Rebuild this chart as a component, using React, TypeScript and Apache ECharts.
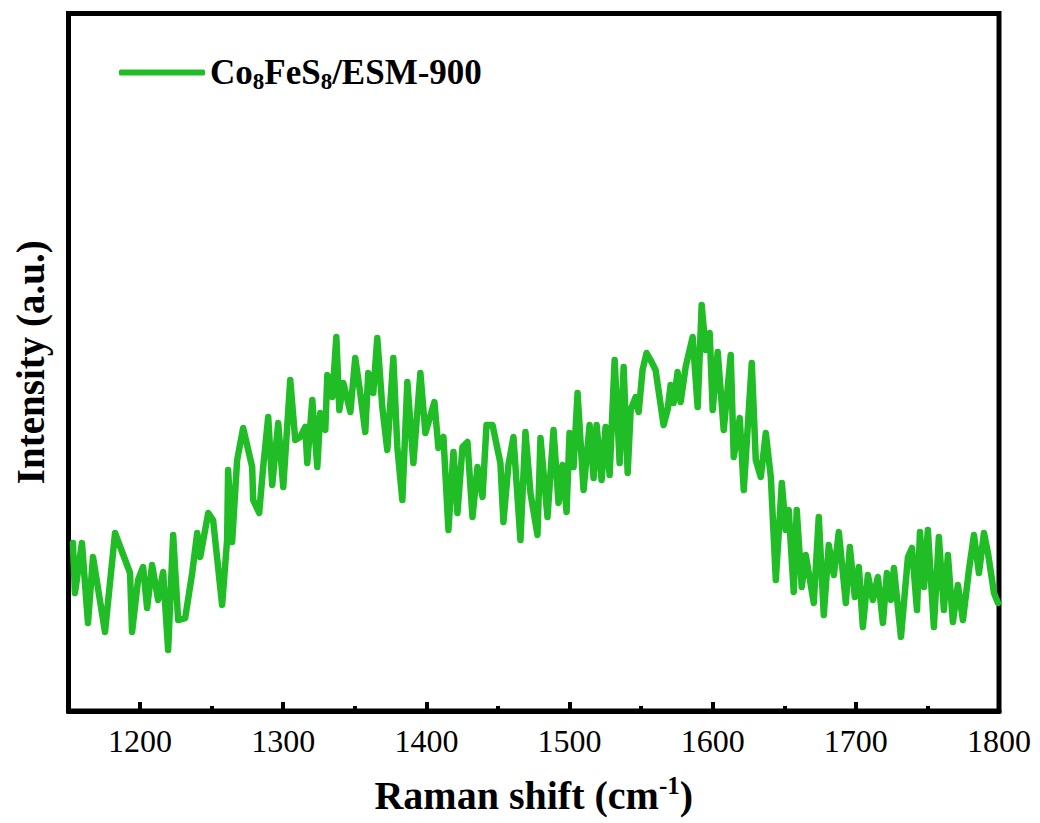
import React, { useEffect, useRef } from "react";
import * as echarts from "echarts";

const seriesName = "Co8FeS8/ESM-900";
const ramanShift = [
  1153.1, 1154.5, 1159.4, 1163.6, 1167.1, 1175.5, 1182.5, 1193.0, 1194.4, 1198.6,
  1202.1, 1204.9, 1208.4, 1212.6, 1216.1, 1219.6, 1223.1, 1226.6, 1231.5, 1236.4,
  1239.9, 1242.0, 1247.6, 1251.0, 1257.3, 1260.8, 1261.5, 1264.3, 1267.8, 1272.0,
  1278.3, 1279.0, 1283.2, 1286.0, 1289.5, 1292.3, 1296.5, 1300.0, 1304.9, 1308.4,
  1311.9, 1315.4, 1316.8, 1320.3, 1323.8, 1325.9, 1329.4, 1330.8, 1334.3, 1337.1,
  1339.2, 1342.0, 1346.9, 1350.3, 1353.8, 1357.3, 1359.4, 1362.9, 1365.7, 1369.2,
  1372.7, 1376.9, 1379.7, 1383.2, 1386.7, 1390.9, 1395.8, 1399.3, 1405.6, 1408.4,
  1411.9, 1415.4, 1418.9, 1421.7, 1425.2, 1428.7, 1432.2, 1435.7, 1439.2, 1442.0,
  1446.2, 1451.7, 1453.8, 1457.3, 1460.8, 1465.7, 1469.2, 1472.7, 1477.6, 1479.7,
  1484.6, 1488.8, 1492.3, 1495.1, 1497.9, 1500.0, 1502.8, 1505.6, 1509.8, 1514.0,
  1516.8, 1518.9, 1522.4, 1525.2, 1528.0, 1531.5, 1535.0, 1537.8, 1540.6, 1542.7,
  1546.2, 1548.3, 1551.0, 1553.8, 1556.6, 1560.1, 1565.7, 1568.5, 1570.6, 1572.7,
  1575.5, 1577.6, 1581.1, 1586.0, 1589.5, 1592.3, 1595.1, 1597.9, 1600.0, 1603.5,
  1607.7, 1612.6, 1614.7, 1618.9, 1621.7, 1627.3, 1630.1, 1633.6, 1637.1, 1640.6,
  1644.1, 1648.3, 1651.0, 1653.1, 1656.6, 1658.7, 1662.2, 1665.0, 1670.6, 1674.1,
  1677.6, 1681.1, 1684.6, 1688.1, 1693.0, 1695.8, 1699.3, 1702.1, 1704.9, 1708.4,
  1711.9, 1715.4, 1718.9, 1721.7, 1724.5, 1726.6, 1731.5, 1736.4, 1739.2, 1742.7,
  1744.8, 1747.6, 1750.3, 1754.5, 1758.0, 1761.5, 1764.3, 1767.8, 1771.3, 1774.8,
  1779.0, 1782.5, 1786.0, 1789.5, 1792.3, 1796.5, 1799.3,
];
const intensity = [
  169, 119, 169, 89, 155, 80, 179, 139, 80, 132,
  145, 104, 147, 112, 140, 62, 177, 92, 94, 139,
  179, 155, 199, 192, 107, 172, 242, 170, 252, 284,
  245, 212, 199, 245, 295, 227, 289, 225, 332, 272,
  275, 285, 249, 312, 245, 299, 282, 337, 315, 375,
  302, 329, 300, 354, 319, 280, 339, 319, 374, 305,
  262, 354, 265, 212, 330, 249, 339, 279, 310, 264,
  275, 182, 260, 199, 265, 270, 195, 245, 215, 287,
  287, 249, 190, 247, 275, 172, 280, 219, 177, 274,
  195, 282, 209, 247, 200, 279, 245, 319, 222, 287,
  234, 287, 232, 285, 237, 352, 249, 345, 239, 302,
  315, 300, 342, 359, 352, 342, 287, 302, 327, 309,
  340, 310, 345, 375, 305, 407, 362, 379, 302, 360,
  282, 357, 255, 294, 222, 349, 252, 235, 279, 235,
  132, 229, 182, 202, 120, 202, 125, 157, 109, 195,
  97, 167, 137, 180, 109, 165, 115, 145, 85, 137,
  112, 135, 89, 139, 112, 144, 75, 155, 164, 102,
  180, 125, 182, 85, 175, 102, 157, 90, 127, 92,
  142, 177, 139, 179, 159, 119, 109,
];
const majorTicks = [1200, 1300, 1400, 1500, 1600, 1700, 1800];
const minorTicks = [1250, 1350, 1450, 1550, 1650, 1750];

const serif = "'Liberation Serif', 'DejaVu Serif', serif";

export default function App() {
  const ref = useRef<HTMLDivElement>(null);
  useEffect(() => {
    if (!ref.current) return;
    const chart = echarts.init(ref.current, undefined, { renderer: "svg" });
    const data = ramanShift.map((x, i) => [x, intensity[i]]);
    chart.setOption({
      animation: false,
      backgroundColor: "#ffffff",
      grid: {
        left: 68.5,
        right: 41,
        top: 13.5,
        bottom: 112,
        show: true,
        borderColor: "#000",
        borderWidth: 5,
      },
      legend: {
        left: 114,
        top: 50,
        icon: "roundRect",
        itemWidth: 86,
        itemHeight: 6,
        itemGap: 14,
        data: [seriesName],
        formatter: () => "{a|Co}{s|8}{a|FeS}{s|8}{a|/ESM-900}",
        textStyle: {
          rich: {
            a: { fontFamily: serif, fontWeight: "bold", fontSize: 35, color: "#000" },
            s: { fontFamily: serif, fontWeight: "bold", fontSize: 23, color: "#000", padding: [18, 0, 0, 0] },
          },
        },
      },
      xAxis: [
        {
          type: "value",
          min: 1150,
          max: 1800,
          position: "bottom",
          name: "{a|Raman shift (cm}{p|-1}{a|)}",
          nameLocation: "middle",
          nameGap: 62,
          nameTextStyle: {
            rich: {
              a: { fontFamily: serif, fontWeight: "bold", fontSize: 40, color: "#000" },
              p: { fontFamily: serif, fontWeight: "bold", fontSize: 25, color: "#000", padding: [0, 0, 20, 0] },
            },
          },
          axisLine: { show: true, lineStyle: { color: "#000", width: 5 } },
          axisTick: {
            show: true,
            inside: true,
            length: 9,
            customValues: majorTicks,
            lineStyle: { color: "#000", width: 4 },
          },
          splitLine: { show: false },
          axisLabel: {
            fontFamily: serif,
            fontSize: 32,
            color: "#000",
            margin: 14,
            customValues: majorTicks,
            formatter: (v: number) => String(v),
          },
        },
        {
          type: "value",
          min: 1150,
          max: 1800,
          position: "bottom",
          axisLine: { show: false },
          axisTick: {
            show: true,
            inside: true,
            length: 5,
            customValues: minorTicks,
            lineStyle: { color: "#000", width: 4 },
          },
          axisLabel: { show: false },
          splitLine: { show: false },
        },
      ],
      yAxis: {
        type: "value",
        min: 1,
        max: 698.5,
        name: "Intensity (a.u.)",
        nameLocation: "middle",
        nameGap: 19,
        nameTextStyle: { fontFamily: serif, fontWeight: "bold", fontSize: 39, color: "#000" },
        axisLine: { show: true, lineStyle: { color: "#000", width: 5 } },
        axisTick: { show: false },
        axisLabel: { show: false },
        splitLine: { show: false },
      },
      series: [
        {
          name: seriesName,
          type: "line",
          xAxisIndex: 0,
          data,
          showSymbol: false,
          smooth: false,
          color: "#21bd27",
          lineStyle: { color: "#21bd27", width: 6.5, join: "round", cap: "round" },
        },
      ],
    });
    return () => chart.dispose();
  }, []);
  return <div ref={ref} style={{ width: 1040, height: 823, position: "absolute", left: 0, top: 0 }} />;
}
